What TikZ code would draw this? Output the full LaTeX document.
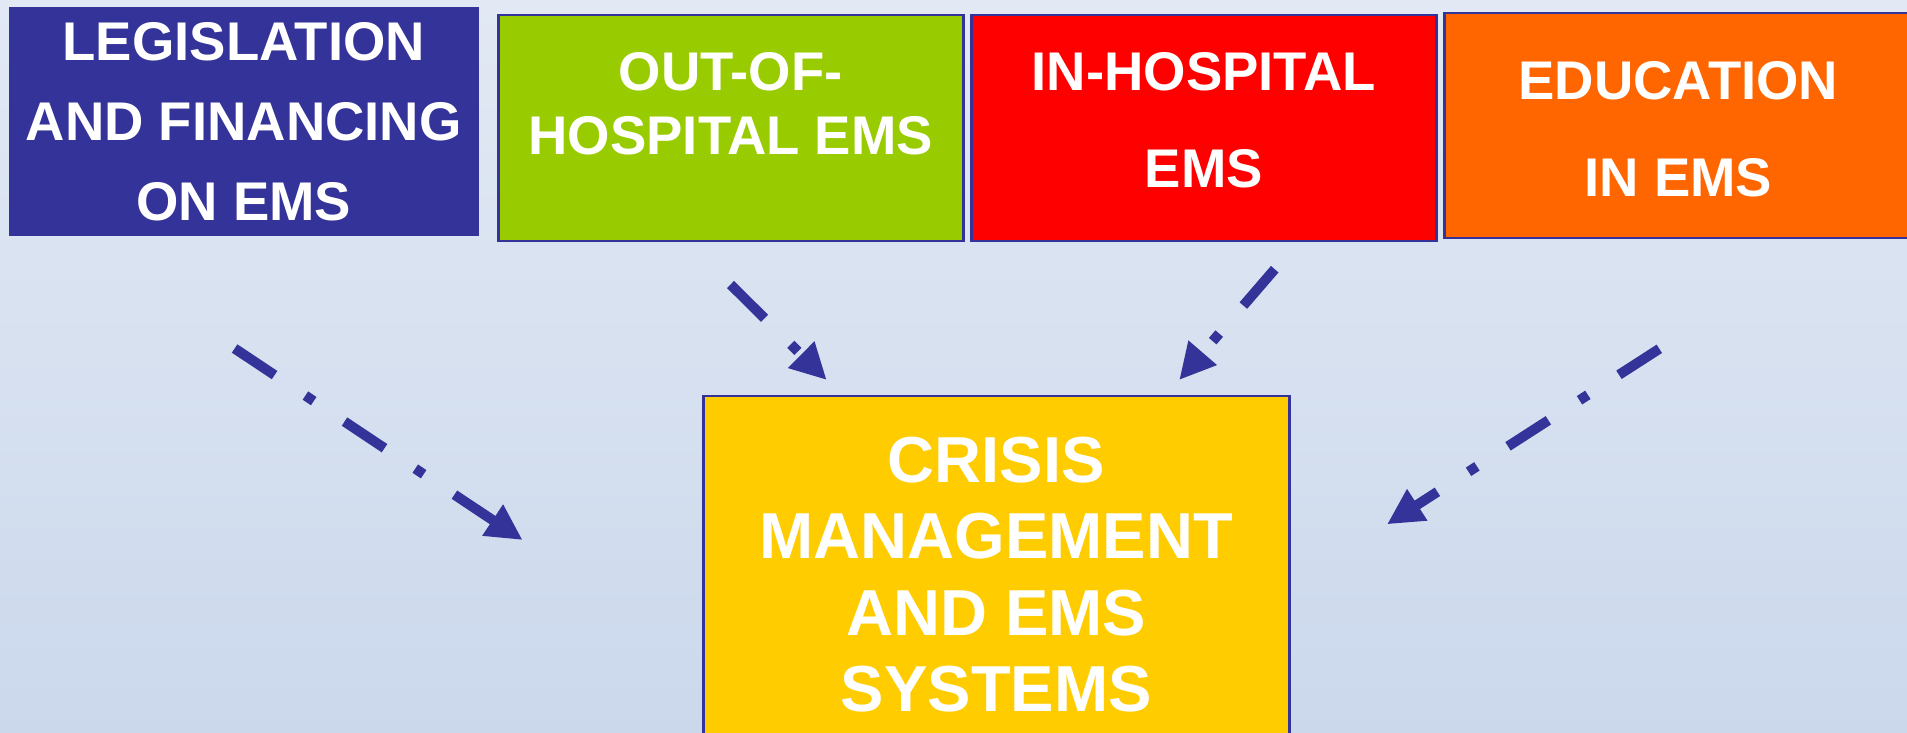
\documentclass[tikz,border=0pt]{standalone}
\usepackage{fontspec}
\setmainfont{Liberation Sans}
\usetikzlibrary{arrows.meta, positioning}
\definecolor{emsBlue}{RGB}{51,51,153}
\definecolor{colLegis}{RGB}{51,51,153}
\definecolor{colOut}{RGB}{153,204,0}
\definecolor{colIn}{RGB}{255,0,0}
\definecolor{colEduc}{RGB}{255,102,0}
\definecolor{colCrisis}{RGB}{255,204,0}
\definecolor{bgTop}{RGB}{226,233,244}
\definecolor{bgBot}{RGB}{203,216,236}
\tikzset{
  % coloured boxes
  emsBox/.style={
    rectangle, draw=emsBlue, line width=0.25mm,
    fill=#1, inner sep=0pt, anchor=north west,
  },
  % white capital text
  boxText/.style={text=white, align=center, inner sep=0pt},
  topFont/.style={font=\fontsize{15.5}{#1}\selectfont\bfseries},
  % dash-dot arrows
  flowArr/.style={
    draw=emsBlue, line width=1mm,
    dash pattern=on 4.8mm off 3.7mm on 1mm off 3.7mm,
    -{Triangle[length=3.6mm, width=3.5mm]},
  },
}

\begin{document}
\begin{tikzpicture}[x=0.1mm, y=-0.1mm]

% background
\useasboundingbox (0,0) rectangle (1907,733);
\shade[top color=bgTop, bottom color=bgBot] (0,0) rectangle (1907,733);

% ── top row ───────────────────────────────────────────────
\node[emsBox=colLegis, minimum width=46.7mm, minimum height=22.7mm]
  (legis) at (9,7) {};
\node[boxText, topFont=22.8pt, below=1.5mm of legis.north]
  (legisTxt) {LEGISLATION\\AND FINANCING\\ON EMS};

\node[emsBox=colOut, minimum width=46.5mm, minimum height=22.6mm]
  (outHosp) at (497,14) {};
\node[boxText, topFont=18.2pt, below=3.8mm of outHosp.north]
  (outHospTxt) {OUT-OF-\\HOSPITAL EMS};

\node[emsBox=colIn, minimum width=46.5mm, minimum height=22.6mm]
  (inHosp) at (970,14) {};
\node[boxText, topFont=27.6pt, below=3.8mm of inHosp.north]
  (inHospTxt) {IN-HOSPITAL\\EMS};

\node[emsBox=colEduc, minimum width=46.8mm, minimum height=22.5mm]
  (educ) at (1443,12) {};
\node[boxText, topFont=27.6pt, below=4.9mm of educ.north]
  (educTxt) {EDUCATION\\IN EMS};

% ── bottom box ────────────────────────────────────────────
\node[emsBox=colCrisis, minimum width=58.6mm, minimum height=40mm]
  (crisis) at (702,395) {};
\node[boxText, font=\fontsize{18.5}{21.8}\selectfont\bfseries,
      below=4.1mm of crisis.north]
  (crisisTxt) {CRISIS\\MANAGEMENT\\AND EMS\\SYSTEMS};

% ── arrows ────────────────────────────────────────────────
\coordinate (legisFrom) at (234.6,348.5);
\coordinate (legisTo)   at (522.6,540);
\coordinate (outFrom)   at (730.5,284.5);
\coordinate (outTo)     at (826.7,380);
\coordinate (inFrom)    at (1274.7,269.2);
\coordinate (inTo)      at (1179.2,380);
\coordinate (educFrom)  at (1659.3,348.8);
\coordinate (educTo)    at (1387,524.3);

\draw[flowArr] (legisFrom) -- (legisTo);
\draw[flowArr] (outFrom)   -- (outTo);
\draw[flowArr] (inFrom)    -- (inTo);
\draw[flowArr] (educFrom)  -- (educTo);

\end{tikzpicture}
\end{document}
